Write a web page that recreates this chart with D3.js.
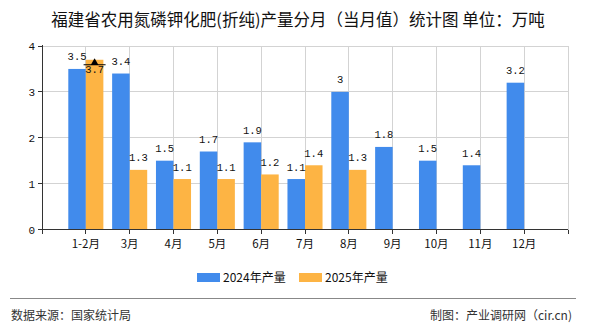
<!DOCTYPE html>
<html>
<head>
<meta charset="utf-8">
<script src="https://cdn.jsdelivr.net/npm/d3@7"></script>
<style>
  html, body { margin: 0; padding: 0; background: #fff; }
  svg { display: block; }
  text { font-family: "Noto Sans CJK SC", "Noto Sans", sans-serif; }
  .num { font-family: "Liberation Mono", "DejaVu Sans Mono", monospace; }
</style>
</head>
<body>
<svg id="chart" width="590" height="330"></svg>
<script>
const title = "福建省农用氮磷钾化肥(折纯)产量分月（当月值）统计图 单位：万吨";
const categories = ["1-2月", "3月", "4月", "5月", "6月", "7月", "8月", "9月", "10月", "11月", "12月"];
const series2024 = [3.5, 3.4, 1.5, 1.7, 1.9, 1.1, 3.0, 1.8, 1.5, 1.4, 3.2];
const series2025 = [3.7, 1.3, 1.1, 1.1, 1.2, 1.4, 1.3];
const seriesNames = ["2024年产量", "2025年产量"];
const yTicks = [0, 1, 2, 3, 4];
const sourceText = "数据来源：国家统计局";
const creditText = "制图：产业调研网（cir.cn)";

(function () {
const colors = ["#418bec", "#fdb444"];
const svg = d3.select("#chart");

const pLeft = 42, pRight = 568, pTop = 46, pBottom = 229.5;
const step = (pRight - pLeft) / (categories.length + 1);

const x = d3.scaleBand()
  .domain(categories)
  .range([pLeft + step / 2, pRight - step / 2])
  .paddingInner(0).paddingOuter(0);
const y = d3.scaleLinear().domain([0, 4]).range([pBottom, pTop]);

const bw = x.bandwidth() * 0.4;
const cx = c => x(c) + x.bandwidth() / 2;

// grid
const g = svg.append("g");
g.selectAll(".hg").data(yTicks.filter(d => d > 0)).join("line")
  .attr("x1", pLeft).attr("x2", pRight)
  .attr("y1", d => y(d)).attr("y2", d => y(d))
  .attr("stroke", "#d3d3d3").attr("stroke-width", 1).attr("shape-rendering", "crispEdges");
g.selectAll(".vg").data(categories).join("line")
  .attr("x1", d => cx(d)).attr("x2", d => cx(d))
  .attr("y1", pTop).attr("y2", pBottom)
  .attr("stroke", "#d3d3d3").attr("stroke-width", 1).attr("shape-rendering", "crispEdges");
g.append("line").attr("x1", pRight).attr("x2", pRight).attr("y1", pTop).attr("y2", pBottom)
  .attr("stroke", "#d3d3d3").attr("shape-rendering", "crispEdges");

// bars
const all = [series2024, series2025];
all.forEach((vals, si) => {
  svg.append("g").selectAll("rect").data(vals).join("rect")
    .attr("x", (d, i) => cx(categories[i]) - bw + si * bw)
    .attr("y", d => y(d))
    .attr("width", bw)
    .attr("height", d => y(0) - y(d))
    .attr("fill", colors[si]);
});

// labels
all.forEach((vals, si) => {
  svg.append("g").selectAll("text").data(vals).join("text")
    .attr("class", "num")
    .attr("x", (d, i) => cx(categories[i]) - bw / 2 + si * bw)
    .attr("y", d => (y(d) - 16 < pTop) ? y(d) + 13.5 : y(d) - 8.5)
    .attr("text-anchor", "middle")
    .attr("font-size", 10.5)
    .attr("fill", "#111")
    .text(d => d3.format("")(d));
});

// max marker on 2025 series
const maxI = d3.maxIndex(series2025);
const mx = cx(categories[maxI]) + bw / 2;
const my = y(series2025[maxI]);
svg.append("line").attr("x1", mx - 11).attr("x2", mx + 11)
  .attr("y1", my + 5).attr("y2", my + 5).attr("stroke", "#000").attr("stroke-width", 1);
svg.append("path")
  .attr("d", d3.symbol(d3.symbolTriangle, 26)())
  .attr("transform", `translate(${mx},${my + 3})`)
  .attr("fill", "#000");

// axes
const axColor = "#333";
svg.append("line").attr("x1", pLeft).attr("x2", pLeft).attr("y1", pTop - 1).attr("y2", pBottom + 4)
  .attr("stroke", axColor).attr("shape-rendering", "crispEdges");
svg.append("line").attr("x1", pLeft - 4).attr("x2", pRight).attr("y1", pBottom).attr("y2", pBottom)
  .attr("stroke", axColor).attr("shape-rendering", "crispEdges");

const yAxisG = svg.append("g");
yAxisG.selectAll("line").data(yTicks).join("line")
  .attr("x1", pLeft - 4).attr("x2", pLeft)
  .attr("y1", d => y(d)).attr("y2", d => y(d))
  .attr("stroke", axColor).attr("shape-rendering", "crispEdges");
yAxisG.selectAll("text").data(yTicks).join("text")
  .attr("class", "num")
  .attr("x", pLeft - 7).attr("y", d => y(d) + 4)
  .attr("text-anchor", "end").attr("font-size", 11).attr("fill", "#111")
  .text(d => d);

const xTickPos = [pLeft, ...categories.map(cx), pRight];
svg.append("g").selectAll("line").data(xTickPos).join("line")
  .attr("x1", d => d).attr("x2", d => d)
  .attr("y1", pBottom).attr("y2", pBottom + 4)
  .attr("stroke", axColor).attr("shape-rendering", "crispEdges");
svg.append("g").selectAll("text").data(categories).join("text")
  .attr("x", d => cx(d)).attr("y", pBottom + 18)
  .attr("text-anchor", "middle").attr("font-size", 11.5).attr("fill", "#111")
  .text(d => d);

// title
svg.append("text")
  .attr("x", 298).attr("y", 26)
  .attr("text-anchor", "middle")
  .attr("font-size", 16.5).attr("fill", "#111")
  .text(title);

// legend
const legX = [197, 299];
seriesNames.forEach((n, i) => {
  svg.append("rect").attr("x", legX[i]).attr("y", 273).attr("width", 23).attr("height", 9)
    .attr("fill", colors[i]);
  svg.append("text").attr("x", legX[i] + 26).attr("y", 282)
    .attr("font-size", 12).attr("fill", "#111").text(n);
});

// footer
svg.append("line").attr("x1", 10).attr("x2", 576).attr("y1", 298).attr("y2", 298)
  .attr("stroke", "#888").attr("stroke-width", 1).attr("shape-rendering", "crispEdges");
svg.append("text").attr("x", 11).attr("y", 320)
  .attr("font-size", 12).attr("fill", "#333").text(sourceText);
svg.append("text").attr("x", 572).attr("y", 320).attr("text-anchor", "end")
  .attr("font-size", 12).attr("fill", "#333").text(creditText);
})();
</script>
</body>
</html>
